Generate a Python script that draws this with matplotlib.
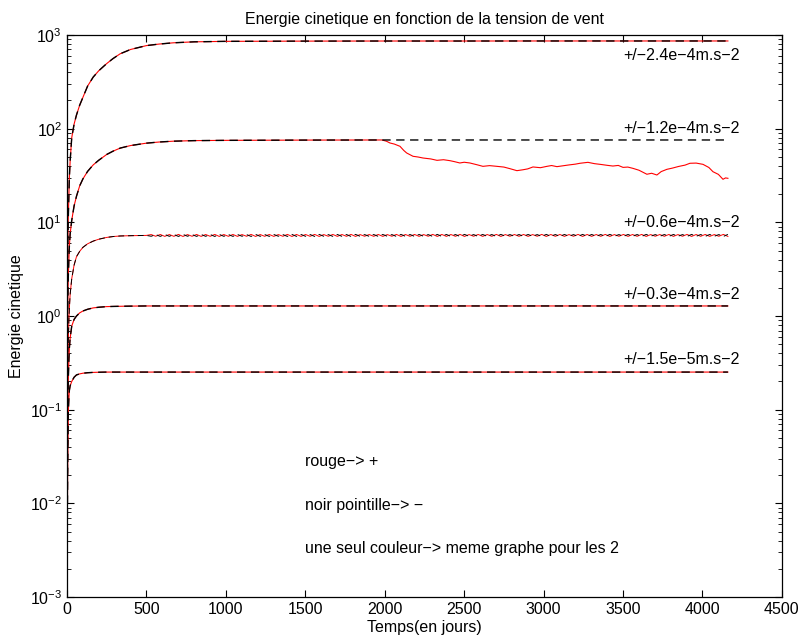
import numpy as np
import matplotlib.pyplot as plt
from matplotlib.ticker import LogLocator, NullFormatter

plt.rcParams['font.family'] = ['Liberation Sans', 'DejaVu Sans']
plt.rcParams['mathtext.default'] = 'regular'
FS = 11.5

# temps (jours) communs a toutes les courbes
t_rise = [2, 5, 8, 12, 15, 20, 30, 45, 60, 80, 100, 130, 165, 200, 250, 290,
          335, 400, 500, 580, 670, 800, 1000, 1500, 2000, 2500, 3000, 3500,
          4000, 4160]

# energie cinetique, forcage +/-2.4e-4 (rouge et noir confondus)
e_24 = [1.5, 5, 10.5, 19, 30, 45, 80, 112, 140, 178, 215, 285, 355, 415, 495, 560,
        630, 700, 770, 800, 825, 845, 855, 860, 862, 862, 863, 863, 863, 863]
# forcage +/-1.2e-4, noir (-)
e_12_minus = [0.3, 1.2, 2.5, 4, 5.5, 7.5, 10.5, 15, 19, 24.5, 29, 35, 41, 46, 53, 57.5,
              62, 66, 70, 72, 73.5, 74.5, 75, 75.5, 75.7, 75.7, 75.7, 75.7, 75.7, 75.7]
# forcage +/-1.2e-4, rouge (+): decroche apres ~2000 jours
t_12_plus = [2, 5, 8, 12, 15, 20, 30, 45, 60, 80, 100, 130, 165, 200, 250, 290,
             335, 400, 500, 580, 670, 800, 1000, 1500,
             1982, 2010, 2033, 2060, 2096, 2120, 2138, 2178, 2210, 2241, 2290,
             2329, 2370, 2411, 2440, 2473, 2500, 2536, 2580, 2618, 2660, 2706,
             2750, 2788, 2832, 2870, 2900, 2933, 2980, 3021, 3050, 3084, 3120,
             3160, 3200, 3229, 3279, 3320, 3360, 3400, 3436, 3470, 3500, 3530,
             3562, 3600, 3650, 3680, 3713, 3740, 3776, 3810, 3850, 3890, 3921,
             3960, 4003, 4040, 4066, 4100, 4129, 4145, 4160]
e_12_plus = [0.3, 1.2, 2.5, 4, 5.5, 7.5, 10.5, 15, 19, 24.5, 29, 35, 41, 46, 53, 57.5,
             62, 66, 70, 72, 73.5, 74.5, 75, 75.5,
             75.7, 73.5, 70.3, 68.5, 64.8, 58.5, 55.0, 50.7, 49.8, 48.6, 47.5,
             45.9, 46.6, 45.5, 44.4, 43.0, 43.8, 43.0, 41.2, 39.6, 40.3, 39.6,
             38.9, 37.4, 35.6, 36.4, 37.2, 39.0, 38.3, 39.6, 40.4, 39.3, 40.1,
             41.0, 41.8, 42.7, 43.7, 42.3, 41.5, 40.6, 39.9, 40.5, 38.6, 38.9,
             37.7, 36.0, 32.6, 33.4, 32.0, 34.8, 36.8, 37.9, 39.5, 40.8, 42.7,
             42.9, 41.6, 38.5, 34.7, 32.5, 28.8, 29.8, 29.5]

# forcage +/-0.6e-4: montee puis plateau ondule
e_06_rise = [0.06, 0.25, 0.5, 0.9, 1.2, 1.7, 2.5, 3.5, 4.3, 4.9, 5.4, 5.9, 6.3, 6.6,
             6.9, 7.05, 7.15, 7.2, 7.25]
e_06_plus_wave = [
    7.40, 7.10, 7.42, 7.08, 7.41, 7.09, 7.43, 7.07, 7.40, 7.10, 7.42, 7.08, 7.41, 7.09, 7.43, 7.07,
    7.41, 7.09, 7.42, 7.08, 7.40, 7.10, 7.43, 7.07, 7.41, 7.09, 7.42, 7.08, 7.40, 7.10, 7.43, 7.07,
    7.42, 7.08, 7.41, 7.09, 7.43, 7.07, 7.40, 7.10, 7.42, 7.08, 7.41, 7.09, 7.43, 7.07, 7.40, 7.10,
    7.41, 7.09, 7.42, 7.08, 7.40, 7.10, 7.43, 7.07, 7.41, 7.09, 7.42, 7.08, 7.40, 7.10, 7.43, 7.07,
    7.42, 7.08, 7.41, 7.09, 7.43, 7.07, 7.40, 7.10, 7.42, 7.08, 7.41, 7.09, 7.43, 7.07, 7.40, 7.10,
    7.41, 7.09, 7.42, 7.08, 7.40, 7.10, 7.43, 7.07, 7.41, 7.09, 7.42, 7.08, 7.40, 7.10, 7.43, 7.07,
    7.42, 7.08, 7.41, 7.09, 7.43, 7.07, 7.40, 7.10, 7.42, 7.08, 7.41, 7.09, 7.43, 7.07, 7.40, 7.10,
    7.41, 7.09, 7.42, 7.08, 7.40, 7.10, 7.43, 7.07, 7.41, 7.09, 7.42, 7.08, 7.40, 7.10, 7.43, 7.07]
e_06_minus_wave = [
    7.10, 7.40, 7.08, 7.42, 7.09, 7.41, 7.07, 7.43, 7.10, 7.40, 7.08, 7.42, 7.09, 7.41, 7.07, 7.43,
    7.09, 7.41, 7.08, 7.42, 7.10, 7.40, 7.07, 7.43, 7.09, 7.41, 7.08, 7.42, 7.10, 7.40, 7.07, 7.43,
    7.08, 7.42, 7.09, 7.41, 7.07, 7.43, 7.10, 7.40, 7.08, 7.42, 7.09, 7.41, 7.07, 7.43, 7.10, 7.40,
    7.09, 7.41, 7.08, 7.42, 7.10, 7.40, 7.07, 7.43, 7.09, 7.41, 7.08, 7.42, 7.10, 7.40, 7.07, 7.43,
    7.08, 7.42, 7.09, 7.41, 7.07, 7.43, 7.10, 7.40, 7.08, 7.42, 7.09, 7.41, 7.07, 7.43, 7.10, 7.40,
    7.09, 7.41, 7.08, 7.42, 7.10, 7.40, 7.07, 7.43, 7.09, 7.41, 7.08, 7.42, 7.10, 7.40, 7.07, 7.43,
    7.08, 7.42, 7.09, 7.41, 7.07, 7.43, 7.10, 7.40, 7.08, 7.42, 7.09, 7.41, 7.07, 7.43, 7.10, 7.40,
    7.09, 7.41, 7.08, 7.42, 7.10, 7.40, 7.07, 7.43, 7.09, 7.41, 7.08, 7.42, 7.10, 7.40, 7.07, 7.43]
t_wave = np.linspace(530, 4160, len(e_06_plus_wave))

# forcages +/-0.3e-4 et +/-1.5e-5
e_03 = [0.015, 0.08, 0.2, 0.33, 0.45, 0.58, 0.78, 0.92, 1.0, 1.08, 1.13, 1.18, 1.22,
        1.24, 1.26, 1.265, 1.27, 1.275, 1.28, 1.28, 1.28, 1.28, 1.28, 1.28, 1.28,
        1.28, 1.28, 1.28, 1.28, 1.28]
e_015 = [0.005, 0.03, 0.09, 0.13, 0.16, 0.18, 0.2, 0.222, 0.235, 0.241, 0.245, 0.248,
         0.25, 0.251, 0.252, 0.252, 0.252, 0.252, 0.252, 0.252, 0.252, 0.252, 0.252,
         0.252, 0.252, 0.252, 0.252, 0.252, 0.252, 0.252]

labels = ['+/\u22122.4e\u22124m.s\u22122', '+/\u22121.2e\u22124m.s\u22122',
          '+/\u22120.6e\u22124m.s\u22122', '+/\u22120.3e\u22124m.s\u22122',
          '+/\u22121.5e\u22125m.s\u22122']
label_y = [600, 100, 10, 1.7, 0.34]
notes = ['rouge\u2212> +', 'noir pointille\u2212> \u2212',
         'une seul couleur\u2212> meme graphe pour les 2']
note_y = [0.028, 0.0096, 0.0033]

fig = plt.figure(figsize=(8.01, 6.43), dpi=100)
ax = fig.add_axes([0.0836, 0.0715, 0.8926, 0.8741])

red = dict(color='#ff0000', lw=0.8)
blk = dict(color='black', lw=1.0, dashes=(6, 4))

n_rise06 = len(e_06_rise)
t_06 = list(t_rise[:n_rise06]) + list(t_wave)
ax.plot(t_rise, e_24, **red)
ax.plot(t_rise, e_24, **blk)
ax.plot(t_12_plus, e_12_plus, **red)
ax.plot(t_rise, e_12_minus, **blk)
ax.plot(t_06, e_06_rise + e_06_plus_wave, color='#ff0000', lw=0.7)
ax.plot(t_06, e_06_rise + e_06_minus_wave, color='black', lw=0.7, dashes=(6, 4))
ax.plot(t_rise, e_03, **red)
ax.plot(t_rise, e_03, **blk)
ax.plot(t_rise, e_015, **red)
ax.plot(t_rise, e_015, **blk)

for lab, y in zip(labels, label_y):
    ax.text(3500, y, lab, fontsize=FS, ha='left', va='center')
for note, y in zip(notes, note_y):
    ax.text(1500, y, note, fontsize=FS, ha='left', va='center')

ax.set_yscale('log')
ax.set_xlim(0, 4500)
ax.set_ylim(1e-3, 1e3)
ax.set_xticks(np.arange(0, 4501, 500))
ax.yaxis.set_major_locator(LogLocator(base=10, numticks=10))
ax.yaxis.set_minor_locator(LogLocator(base=10, subs=np.arange(2, 10), numticks=20))
ax.yaxis.set_minor_formatter(NullFormatter())
ax.tick_params(which='both', direction='in', top=True, right=True, labelsize=FS)
ax.tick_params(which='major', length=5, width=0.8)
ax.tick_params(which='minor', length=3, width=0.6)
for s in ax.spines.values():
    s.set_linewidth(0.9)

ax.set_title('Energie cinetique en fonction de la tension de vent', fontsize=FS, pad=8)
ax.set_xlabel('Temps(en jours)', fontsize=FS, labelpad=2)
ax.set_ylabel('Energie cinetique', fontsize=FS, labelpad=4)

fig.savefig('out.png', dpi=100)
